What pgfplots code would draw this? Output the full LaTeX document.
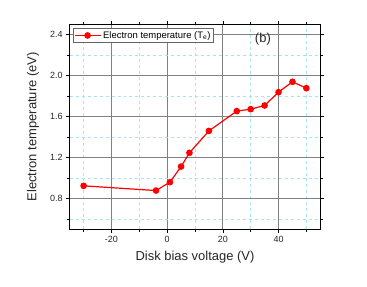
\documentclass[border=0pt]{standalone}
\usepackage{pgfplots}
\pgfplotsset{compat=1.18}
\usepackage{fontspec}
\setmainfont{Liberation Sans}
\pgfplotsset{mylegend/.style={legend image code/.code={\draw[mark repeat=2,mark phase=2,##1] plot coordinates {(0bp,0bp)(13bp,0bp)(26bp,0bp)};}}}
\begin{document}
\begin{tikzpicture}
\begin{axis}[
 scale only axis, width=250.6bp, height=205bp,
 xmin=-35, xmax=55, ymin=0.5, ymax=2.5,
 xtick={-20,0,20,40}, ytick={0.8,1.2,1.6,2.0,2.4},
 minor xtick={-30,-10,10,30,50}, minor ytick={0.6,1.0,1.4,1.8,2.2},
 yticklabel style={/pgf/number format/.cd, fixed, fixed zerofill, precision=1},
 /pgf/number format/assume math mode=true,
 tick align=outside, major tick length=3.5bp, minor tick length=2.5bp,
 grid=both,
 major grid style={black!50, line width=0.7pt},
 minor grid style={cyan!35, dashed, line width=0.4pt},
 axis line style={line width=0.9pt},
 tick style={black, line width=0.6pt},
 ticklabel style={font=\fontsize{9}{10}\selectfont, text=black!85},
 xlabel={Disk bias voltage (V)}, ylabel={Electron temperature (eV)},
 label style={font=\fontsize{13}{14}\selectfont, text=black!85},
 xlabel style={at={(axis description cs:0.5,-0.1337)}, anchor=center},
 ylabel style={at={(axis description cs:-0.1465,0.5)}, anchor=center},
 legend style={at={(0,1)}, anchor=north west, xshift=3.3bp, yshift=-4bp,
   font=\fontsize{9.5}{10}\selectfont, draw=black!60, inner sep=0.8pt, row sep=0pt,
   cells={anchor=west}},
]
\addplot[red, line width=1.2pt, mark=*, mark size=2.7bp, mark options={solid, fill=red}, mylegend]
 coordinates {
 (-30,0.924) (-4,0.878) (1,0.960) (5,1.112) (8,1.246) (15,1.460)
 (25,1.653) (30,1.672) (35,1.708) (40,1.838) (45,1.939) (50,1.877)
 };
\addlegendentry{Electron temperature (T$_\mathrm{e}$)}
\node[font=\fontsize{13}{14}\selectfont, text=black!85] at (rel axis cs:0.771,0.93) {(b)};
\end{axis}
\path (current axis.south west) ++(-69.7bp,-56.7bp) coordinate (a);
\path (current axis.north east) ++(46.7bp,24.3bp) coordinate (b);
\pgfresetboundingbox
\path[use as bounding box] (a) rectangle (b);
\end{tikzpicture}
\end{document}
